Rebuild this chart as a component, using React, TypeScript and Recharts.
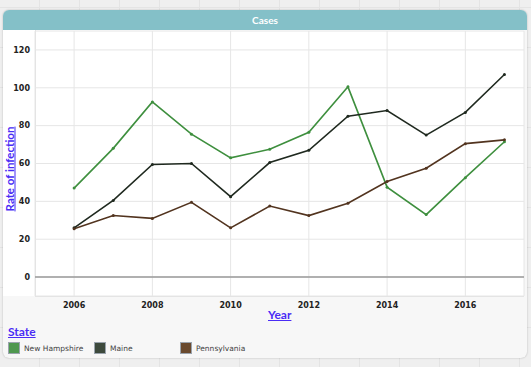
import React from "react";
import { LineChart, Line, XAxis, YAxis, CartesianGrid, ReferenceLine } from "recharts";

const years = [2006, 2007, 2008, 2009, 2010, 2011, 2012, 2013, 2014, 2015, 2016, 2017];
const newHampshire = [47, 68, 92.5, 75.5, 63, 67.5, 76.5, 100.5, 47.5, 33, 52.5, 71.5];
const maine = [26, 40.5, 59.5, 60, 42.5, 60.5, 67, 85, 88, 75, 87, 107];
const pennsylvania = [25.5, 32.5, 31, 39.5, 26, 37.5, 32.5, 39, 50.5, 57.5, 70.5, 72.5];
const xTicks = [2006, 2008, 2010, 2012, 2014, 2016];
const yTicks = [0, 20, 40, 60, 80, 100, 120];

const series = [
  { key: "nh", name: "New Hampshire", values: newHampshire, color: "#3e8f3e", swatch: "#4f984f" },
  { key: "me", name: "Maine", values: maine, color: "#1f291f", swatch: "#3d4a3d" },
  { key: "pa", name: "Pennsylvania", values: pennsylvania, color: "#52341f", swatch: "#6a4a2e" },
];

const data = years.map((y, i) => {
  const row: Record<string, number> = { year: y };
  series.forEach((s) => (row[s.key] = s.values[i]));
  return row;
});

const labelStyle: React.CSSProperties = {
  position: "absolute",
  color: "#4a2cf5",
  fontFamily: "Lato",
  fontWeight: 700,
  textDecoration: "underline",
  whiteSpace: "nowrap",
};

export default function App() {
  return (
    <div
      style={{
        position: "fixed",
        left: 0,
        top: 0,
        width: 531,
        height: 367,
        overflow: "hidden",
        background: "#efefef",
        backgroundImage:
          "repeating-linear-gradient(90deg, transparent 0 39px, #e4e4e4 39px 40px), repeating-linear-gradient(0deg, transparent 0 39px, #e4e4e4 39px 40px)",
      }}
    >
      <div
        style={{
          position: "absolute",
          left: 3,
          top: 10,
          width: 524,
          height: 348,
          background: "#f7f7f7",
          borderRadius: 6,
          boxShadow: "0 0 2px rgba(0,0,0,0.25)",
          overflow: "hidden",
        }}
      >
        <div
          style={{
            position: "absolute",
            left: 0,
            top: 0,
            width: 524,
            height: 20,
            background: "#84c0c8",
            color: "#fff",
            fontFamily: "Lato",
            fontWeight: 700,
            fontSize: 10,
            lineHeight: "20px",
            textAlign: "center",
          }}
        >
          Cases
        </div>
        <div
          style={{
            position: "absolute",
            left: 0,
            top: 20,
            width: 521,
            height: 266,
            background: "#fff",
          }}
        />
        <div
          style={{
            position: "absolute",
            left: 32,
            top: 20,
            width: 489,
            height: 267,
            borderLeft: "1px solid #e2e2e2",
            borderBottom: "1px solid #e2e2e2",
            boxSizing: "border-box",
          }}
        />
      </div>
      <div style={{ position: "absolute", left: 0, top: 0 }}>
        <LineChart width={531} height={367} data={data} margin={{ top: 31, right: 7, bottom: 51, left: 10 }}>
          <CartesianGrid stroke="#e6e6e6" strokeWidth={1} />
          <XAxis
            dataKey="year"
            type="number"
            domain={[2005, 2017.5]}
            ticks={xTicks}
            axisLine={false}
            tickLine={false}
            tick={{ fontSize: 8, fill: "#222", fontFamily: "DejaVu Sans", fontWeight: 600 }}
            tickMargin={2}
            tickSize={4}
            height={20}
          />
          <YAxis
            type="number"
            domain={[-10, 130]}
            ticks={yTicks}
            axisLine={false}
            tickLine={false}
            tick={{ fontSize: 8, fill: "#222", fontFamily: "DejaVu Sans", fontWeight: 600 }}
            tickSize={5}
            tickMargin={0}
            width={25}
          />
          <ReferenceLine y={0} stroke="#9a9a9a" strokeWidth={1.5} />
          {series.map((s) => (
            <Line
              key={s.key}
              dataKey={s.key}
              name={s.name}
              stroke={s.color}
              strokeWidth={1.6}
              dot={{ r: 1.5, fill: s.color, stroke: s.color, strokeWidth: 0 }}
              activeDot={false}
              isAnimationActive={false}
            />
          ))}
        </LineChart>
      </div>
      <div
        style={{
          ...labelStyle,
          fontSize: 11.5,
          left: 9,
          top: 169,
          transform: "translate(-50%, -50%) rotate(-90deg)",
        }}
      >
        Rate of infection
      </div>
      <div style={{ ...labelStyle, fontSize: 12, left: 268, top: 307 }}>Year</div>
      <div style={{ ...labelStyle, fontSize: 12, left: 8, top: 324 }}>State</div>
      {series.map((s, i) => {
        const left = [8, 94, 180][i];
        return (
          <div key={s.key} style={{ position: "absolute", left, top: 342, display: "flex", alignItems: "center" }}>
            <div
              style={{
                width: 12,
                height: 12,
                boxSizing: "border-box",
                background: s.swatch,
                border: "1px solid #9aa3ad",
              }}
            />
            <span
              style={{
                marginLeft: 4,
                fontSize: 7.5,
                fontFamily: "DejaVu Sans",
                color: "#444",
                whiteSpace: "nowrap",
              }}
            >
              {s.name}
            </span>
          </div>
        );
      })}
    </div>
  );
}
